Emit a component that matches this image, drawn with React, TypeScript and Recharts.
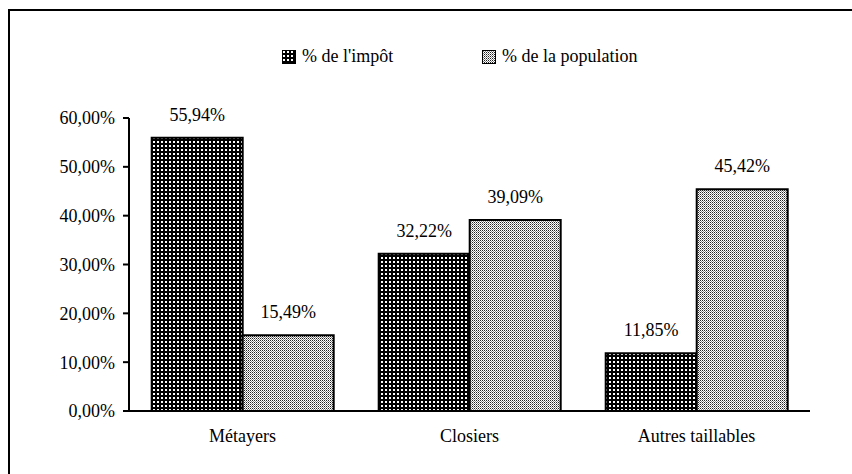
import React from "react";
import { BarChart, Bar, XAxis, YAxis, LabelList } from "recharts";

const categories = ["Métayers", "Closiers", "Autres taillables"];
const impot = [55.94, 32.22, 11.85];
const population = [15.49, 39.09, 45.42];
const yTicks = [0, 10, 20, 30, 40, 50, 60];
const seriesNames = ["% de l'impôt", "% de la population"];

const data = categories.map((name, i) => ({
  name,
  impot: impot[i],
  population: population[i],
}));

const fmt = (v: number) => v.toFixed(2).replace(".", ",") + "%";
const font = "'Liberation Serif', 'Times New Roman', serif";
const textStyle = { fill: "#000", fontSize: 18, fontFamily: font };

function Patterns() {
  return (
    <svg width={0} height={0} style={{ position: "absolute" }}>
      <defs>
        <pattern id="patImpot" width={4} height={4} patternUnits="userSpaceOnUse">
          <rect width={4} height={4} fill="#000" />
          <rect x={1} y={1} width={2} height={2} fill="#fff" />
        </pattern>
        <pattern id="patPop" width={2} height={2} patternUnits="userSpaceOnUse">
          <rect width={2} height={2} fill="#fff" />
          <rect x={0} y={0} width={1} height={1} fill="#222" />
          <rect x={1} y={1} width={1} height={1} fill="#888" />
        </pattern>
      </defs>
    </svg>
  );
}

function LegendItem({ x, fill, label }: { x: number; fill: string; label: string }) {
  return (
    <div style={{ position: "absolute", left: x, top: 46, display: "flex", alignItems: "center" }}>
      <svg width={14} height={14}>
        <rect x={0.5} y={0.5} width={13} height={13} fill={fill} stroke="#000" />
      </svg>
      <span style={{ marginLeft: 6, fontSize: 18, fontFamily: font }}>{label}</span>
    </div>
  );
}

export default function App() {
  return (
    <div style={{ position: "absolute", left: 0, top: 0, width: 852, height: 474, overflow: "hidden", background: "#fff" }}>
      <Patterns />
      <div style={{ position: "absolute", left: 8, top: 9, width: 880, height: 500, border: "2px solid #000" }} />
      <LegendItem x={282} fill="url(#patImpot)" label={seriesNames[0]} />
      <LegendItem x={482} fill="url(#patPop)" label={seriesNames[1]} />
      <div style={{ position: "absolute", left: 0, top: 0 }}>
        <BarChart
          width={852}
          height={474}
          data={data}
          margin={{ top: 118, right: 42, bottom: 33, left: 0 }}
          barCategoryGap="10%"
          barGap={0}
        >
          <XAxis
            dataKey="name"
            height={30}
            axisLine={{ stroke: "#000", strokeWidth: 2 }}
            tickLine={false}
            tickMargin={12}
            tick={textStyle}
          />
          <YAxis
            width={129}
            domain={[0, 60]}
            ticks={yTicks}
            tickFormatter={fmt}
            axisLine={{ stroke: "#000", strokeWidth: 2 }}
            tickLine={{ stroke: "#000", strokeWidth: 2 }}
            tickSize={6}
            tickMargin={8}
            tick={textStyle}
          />
          <Bar dataKey="impot" fill="url(#patImpot)" stroke="#000" strokeWidth={2} isAnimationActive={false}>
            <LabelList dataKey="impot" position="top" offset={17} formatter={(v: number) => fmt(v)} style={textStyle} />
          </Bar>
          <Bar dataKey="population" fill="url(#patPop)" stroke="#000" strokeWidth={2} isAnimationActive={false}>
            <LabelList dataKey="population" position="top" offset={17} formatter={(v: number) => fmt(v)} style={textStyle} />
          </Bar>
        </BarChart>
      </div>
    </div>
  );
}
